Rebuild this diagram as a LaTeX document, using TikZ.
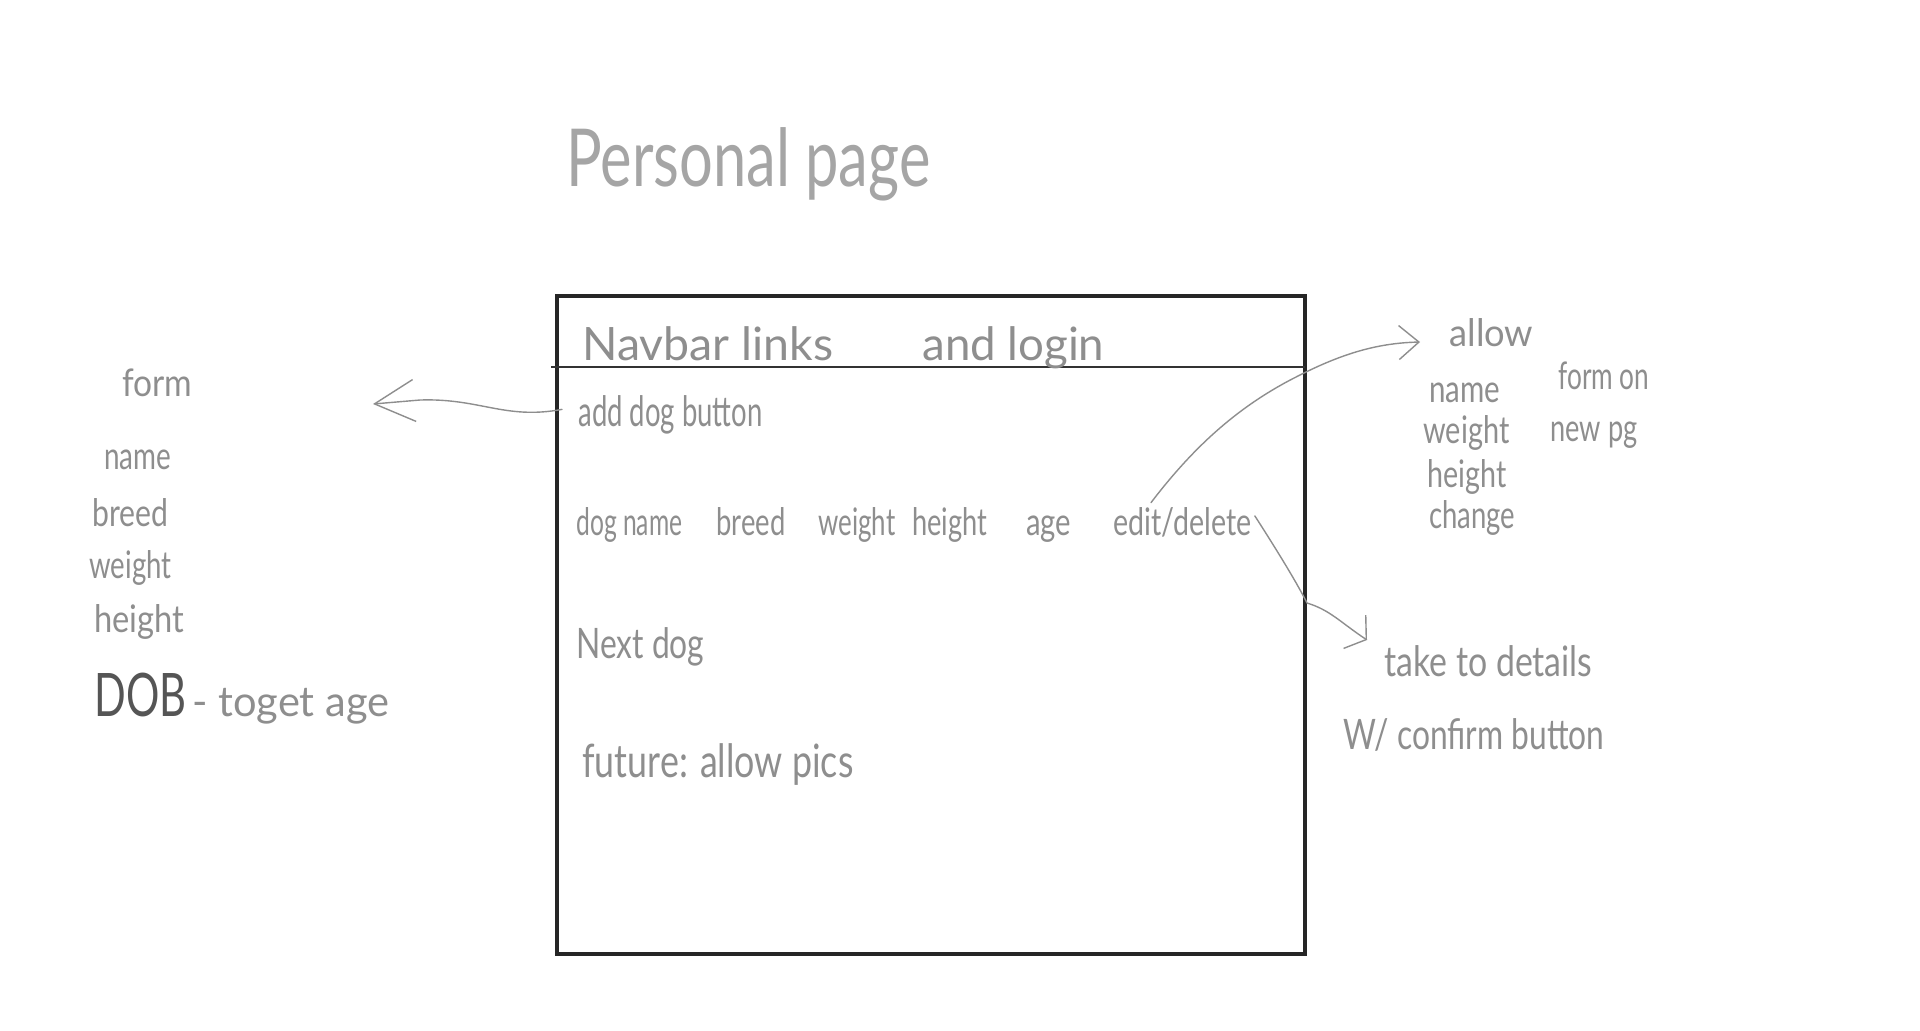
\documentclass[tikz,border=0pt]{standalone}
\usepackage{fontspec}
\setmainfont{Lato}
\usepackage{graphicx}
\usetikzlibrary{arrows.meta,calc}
\newdimen\pxu \pxu=0.5pt
% text at a given size, squeezed to a given width (in px units)
\newcommand\hw[3][19]{\resizebox{#2\pxu}{\height}{\fontsize{#1pt}{#1pt}\selectfont #3}}
\definecolor{pencil}{RGB}{142,142,142}
\definecolor{pencillight}{RGB}{165,165,165}
\definecolor{pencildark}{RGB}{85,85,85}
\tikzset{
  note/.style={anchor=base west, inner sep=0pt, text=pencil},
  frame/.style={draw=black!85, line width=2pt},
  rule/.style={draw=black!80, line width=0.9pt},
  conn/.style={draw=pencil, line width=0.7pt, line cap=round, line join=round}
}
\begin{document}
\begin{tikzpicture}[x=0.5pt, y=-0.5pt]
\useasboundingbox (0,0) rectangle (1920,1030);
\fill[white] (0,0) rectangle (1920,1030);

% title
\node[note, text=pencillight] (title) at (566,186) {\hw[40]{364}{Personal page}};

% page frame and navbar rule
\draw[frame] (557,296) rectangle (1305,954);
\coordinate (ruleL) at (551,367);
\coordinate (ruleR) at (1305,367);
\draw[rule] (ruleL) -- (ruleR);

% page contents
\node[note] (navbar) at (582,360) {\hw[23]{251}{Navbar links}};
\node[note] (login) at (922,360) {\hw[23]{182}{and login}};
\node[note] (adddog) at (578,426) {\hw[21]{184}{add dog button}};
\node[note] (dogname) at (576,535) {\hw{106}{dog name}};
\node[note] (breed) at (716,535) {\hw{69}{breed}};
\node[note] (weight) at (818,535) {\hw{77}{weight}};
\node[note] (height) at (912,535) {\hw{75}{height}};
\node[note] (age) at (1026,535) {\hw{45}{age}};
\node[note] (editdel) at (1113,535) {\hw{138}{edit/delete}};
\node[note] (nextdog) at (576,658) {\hw[21]{128}{Next dog}};
\node[note] (future) at (582,777) {\hw[23]{271}{future: allow pics}};

% form notes on the left
\node[note] (form) at (122,396) {\hw{70}{form}};
\node[note] (fname) at (104,469) {\hw{67}{name}};
\node[note] (fbreed) at (92,526) {\hw{76}{breed}};
\node[note] (fweight) at (89,578) {\hw{82}{weight}};
\node[note] (fheight) at (94,632) {\hw{90}{height}};
\node[note] (dob) at (94,716)
  {\textcolor{pencildark}{\hw[30]{92}{DOB}}\hspace{6\pxu}\hw[21]{197}{- toget age}};

% edit notes on the right
\node[note] (allow) at (1449,346) {\hw{84}{allow}};
\node[note] (rname) at (1429,402) {\hw{71}{name}};
\node[note] (rweight) at (1423,443) {\hw{86}{weight}};
\node[note] (rheight) at (1427,487) {\hw{79}{height}};
\node[note] (rchange) at (1429,528) {\hw{86}{change}};
\node[note] (formon) at (1558,389) {\hw{91}{form on}};
\node[note] (newpg) at (1550,441) {\hw{87}{new pg}};

% delete notes on the right
\node[note] (take) at (1384,676) {\hw[21]{208}{take to details}};
\node[note] (confirm) at (1343,749) {\hw[21]{261}{W/ confirm button}};

% connectors
\coordinate (formtip) at (373,404);
\draw[conn, -{Straight Barb[length=20pt, width=21pt, line width=0.7pt]}]
  ($(adddog.west)+(-16,-5)$) .. controls (505,420) and (480,398) .. (420,400)
  -- (formtip);

\coordinate (allowtip) at (1420,342);
\draw[conn, -{Straight Barb[length=10pt, width=17pt, line width=0.7pt]}]
  ($(editdel.north west)+(38,-4)$) .. controls (1195,445) and (1240,405) .. (1298,376)
  .. controls (1345,352) and (1380,343) .. (allowtip);

\coordinate (taketip) at (1367,640);
\draw[conn, -{Straight Barb[length=7pt, width=20pt, line width=0.7pt]}]
  ($(editdel.east)+(3,-6)$) .. controls (1280,555) and (1298,585) .. (1307,603)
  .. controls (1330,610) and (1340,622) .. (taketip);
\end{tikzpicture}
\end{document}
